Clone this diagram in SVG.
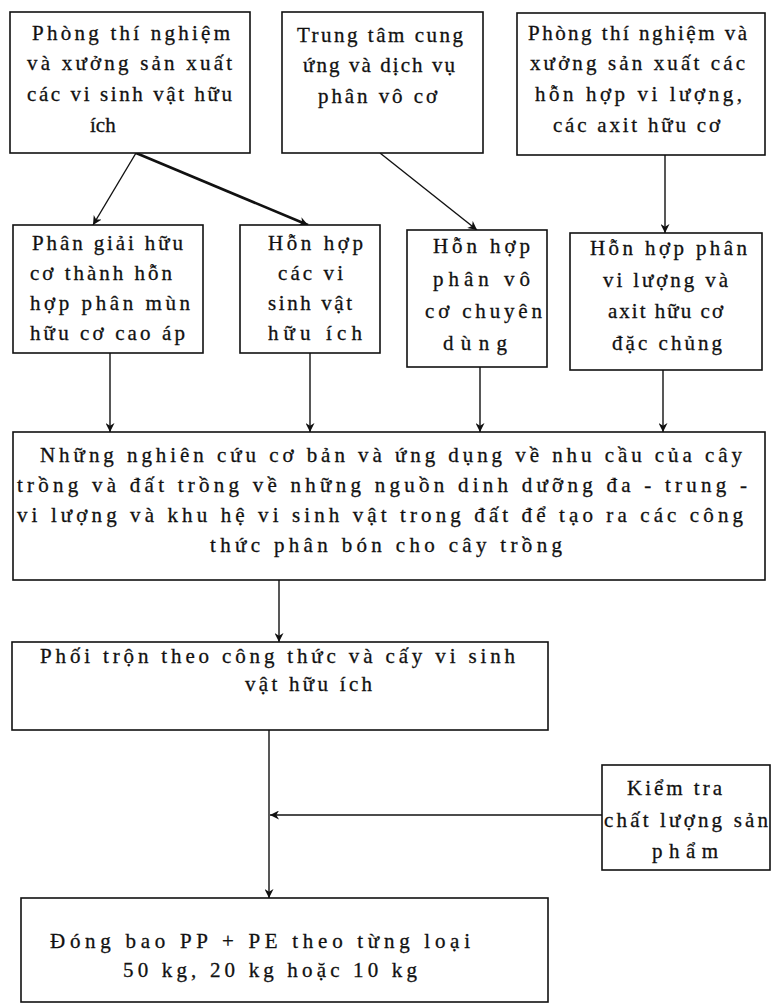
<svg xmlns="http://www.w3.org/2000/svg" width="771" height="1004" viewBox="0 0 771 1004">
<defs>
<style>
.box{fill:#fff;stroke:#111;stroke-width:1.6}
.t{font-family:"Liberation Serif","Times New Roman",serif;font-size:21px;fill:#111;stroke:#111;stroke-width:0.3}
.c{stroke:#111;stroke-width:1.4;fill:none}
.ct{stroke:#111;stroke-width:2.6;fill:none}
</style>
<marker id="ah" viewBox="0 0 10 10" refX="10" refY="5" markerWidth="9" markerHeight="9" markerUnits="userSpaceOnUse" orient="auto">
<path d="M0,0 L10,5 L0,10 L3,5 Z" fill="#111"/>
</marker>
</defs>
<rect width="771" height="1004" fill="#fff"/>

<g id="connectors">
<line class="c" x1="136" y1="153" x2="93" y2="225" marker-end="url(#ah)"/>
<line class="ct" x1="136" y1="153" x2="308" y2="225" marker-end="url(#ah)"/>
<line class="c" x1="380" y1="153" x2="477" y2="230" marker-end="url(#ah)"/>
<line class="c" x1="665" y1="155" x2="665" y2="233" marker-end="url(#ah)"/>
<line class="c" x1="110" y1="353" x2="110" y2="432" marker-end="url(#ah)"/>
<line class="c" x1="310" y1="353" x2="310" y2="432" marker-end="url(#ah)"/>
<line class="c" x1="480" y1="367" x2="480" y2="432" marker-end="url(#ah)"/>
<line class="c" x1="663" y1="370" x2="663" y2="432" marker-end="url(#ah)"/>
<line class="c" x1="279" y1="580" x2="279" y2="642" marker-end="url(#ah)"/>
<line class="c" x1="269" y1="730" x2="269" y2="898" marker-end="url(#ah)"/>
<line class="c" x1="602" y1="815" x2="270" y2="815" marker-end="url(#ah)"/>
</g>

<g id="n1">
<rect class="box" x="10" y="12" width="240" height="141"/>
<text class="t" x="32" y="40" textLength="198" lengthAdjust="spacing">Phòng thí nghiệm</text>
<text class="t" x="27" y="70" textLength="205" lengthAdjust="spacing">và xưởng sản xuất</text>
<text class="t" x="27" y="101" textLength="205" lengthAdjust="spacing">các vi sinh vật hữu</text>
<text class="t" x="90" y="132">ích</text>
</g>

<g id="n2">
<rect class="box" x="282" y="12" width="201" height="141"/>
<text class="t" x="297" y="42" textLength="166" lengthAdjust="spacing">Trung tâm cung</text>
<text class="t" x="303" y="72" textLength="152" lengthAdjust="spacing">ứng và dịch vụ</text>
<text class="t" x="318" y="103" textLength="119" lengthAdjust="spacing">phân vô cơ</text>
</g>

<g id="n3">
<rect class="box" x="517" y="13" width="248" height="142"/>
<text class="t" x="528" y="40" textLength="219" lengthAdjust="spacing">Phòng thí nghiệm và</text>
<text class="t" x="530" y="70" textLength="215" lengthAdjust="spacing">xưởng sản xuất các</text>
<text class="t" x="535" y="101" textLength="207" lengthAdjust="spacing">hỗn hợp vi lượng,</text>
<text class="t" x="553" y="132" textLength="167" lengthAdjust="spacing">các axit hữu cơ</text>
</g>

<g id="n4">
<rect class="box" x="13" y="225" width="190" height="128"/>
<text class="t" x="32" y="250" textLength="151" lengthAdjust="spacing">Phân giải hữu</text>
<text class="t" x="30" y="280" textLength="142" lengthAdjust="spacing">cơ thành hỗn</text>
<text class="t" x="30" y="310" textLength="160" lengthAdjust="spacing">hợp phân mùn</text>
<text class="t" x="30" y="340" textLength="155" lengthAdjust="spacing">hữu cơ cao áp</text>
</g>

<g id="n5">
<rect class="box" x="240" y="225" width="140" height="128"/>
<text class="t" x="268" y="250" textLength="95" lengthAdjust="spacing">Hỗn hợp</text>
<text class="t" x="278" y="280" textLength="65" lengthAdjust="spacing">các vi</text>
<text class="t" x="268" y="310" textLength="84" lengthAdjust="spacing">sinh vật</text>
<text class="t" x="268" y="340" textLength="94" lengthAdjust="spacing">hữu ích</text>
</g>

<g id="n6">
<rect class="box" x="407" y="230" width="140" height="137"/>
<text class="t" x="433" y="253" textLength="97" lengthAdjust="spacing">Hỗn hợp</text>
<text class="t" x="433" y="286" textLength="97" lengthAdjust="spacing">phân vô</text>
<text class="t" x="425" y="318" textLength="117" lengthAdjust="spacing">cơ chuyên</text>
<text class="t" x="443" y="350" textLength="64" lengthAdjust="spacing">dùng</text>
</g>

<g id="n7">
<rect class="box" x="570" y="233" width="192" height="137"/>
<text class="t" x="590" y="255" textLength="157" lengthAdjust="spacing">Hỗn hợp phân</text>
<text class="t" x="603" y="287" textLength="125" lengthAdjust="spacing">vi lượng và</text>
<text class="t" x="608" y="318" textLength="115" lengthAdjust="spacing">axit hữu cơ</text>
<text class="t" x="612" y="350" textLength="110" lengthAdjust="spacing">đặc chủng</text>
</g>

<g id="n8">
<rect class="box" x="13" y="432" width="752" height="148"/>
<text class="t" x="40" y="462" textLength="702" lengthAdjust="spacing">Những nghiên cứu cơ bản và ứng dụng về nhu cầu của cây</text>
<text class="t" x="17" y="492" textLength="730" lengthAdjust="spacing">trồng và đất trồng về những nguồn dinh dưỡng đa - trung -</text>
<text class="t" x="17" y="522" textLength="726" lengthAdjust="spacing">vi lượng và khu hệ vi sinh vật trong đất để tạo ra các công</text>
<text class="t" x="210" y="552" textLength="352" lengthAdjust="spacing">thức phân bón cho cây trồng</text>
</g>

<g id="n9">
<rect class="box" x="12" y="642" width="536" height="88"/>
<text class="t" x="40" y="663" textLength="475" lengthAdjust="spacing">Phối trộn theo công thức và cấy vi sinh</text>
<text class="t" x="245" y="691" textLength="127" lengthAdjust="spacing">vật hữu ích</text>
</g>

<g id="n10">
<rect class="box" x="602" y="765" width="168" height="105"/>
<text class="t" x="627" y="795" textLength="95" lengthAdjust="spacing">Kiểm tra</text>
<text class="t" x="604" y="827" textLength="164" lengthAdjust="spacing">chất lượng sản</text>
<text class="t" x="652" y="858" textLength="66" lengthAdjust="spacing">phẩm</text>
</g>

<g id="n11">
<rect class="box" x="21" y="898" width="527" height="104"/>
<text class="t" x="50" y="948" textLength="420" lengthAdjust="spacing">Đóng bao PP + PE theo từng loại</text>
<text class="t" x="123" y="977" textLength="294" lengthAdjust="spacing">50 kg, 20 kg hoặc 10 kg</text>
</g>
</svg>
